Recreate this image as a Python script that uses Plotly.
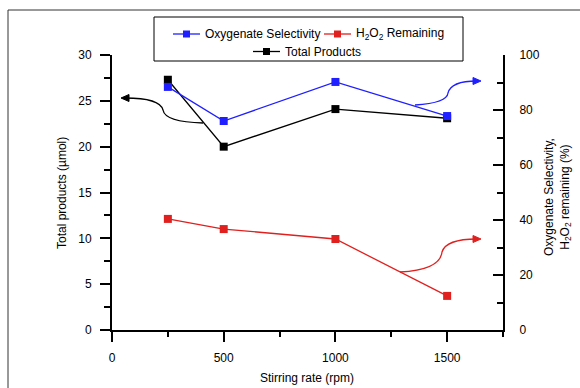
import plotly.graph_objects as go

# ---- data ----
stirring_rate = [250, 500, 1000, 1500]
total_products = [27.3, 20.0, 24.1, 23.1]          # umol (left axis)
oxygenate_selectivity = [88.4, 76.0, 90.2, 77.8]   # % (right axis)
h2o2_remaining = [40.4, 36.7, 33.1, 12.4]          # % (right axis)

x_ticks = [0, 500, 1000, 1500]
left_ticks = [0, 5, 10, 15, 20, 25, 30]
right_ticks = [0, 20, 40, 60, 80, 100]

BLUE = "#1f1fff"
RED = "#e0201e"
BLACK = "#000000"
FONT = "Liberation Sans, Arial, sans-serif"

W, H = 580, 388
L, R, T, B = 112, 503, 55, 330  # plot area in pixels


def px(x):
    return (x - L) / (R - L)


def py(y):
    return (B - y) / (B - T)


fig = go.Figure()
fig.add_trace(go.Scatter(x=stirring_rate, y=oxygenate_selectivity, yaxis="y2",
                         mode="lines+markers", name="Oxygenate Selectivity",
                         line=dict(color=BLUE, width=1.3),
                         marker=dict(symbol="square", size=8, color=BLUE)))
fig.add_trace(go.Scatter(x=stirring_rate, y=h2o2_remaining, yaxis="y2",
                         mode="lines+markers", name="H2O2 Remaining",
                         line=dict(color=RED, width=1.3),
                         marker=dict(symbol="square", size=8, color=RED)))
fig.add_trace(go.Scatter(x=stirring_rate, y=total_products, yaxis="y",
                         mode="lines+markers", name="Total Products",
                         line=dict(color=BLACK, width=1.3),
                         marker=dict(symbol="square", size=8, color=BLACK)))

axis_common = dict(showgrid=False, zeroline=False, showline=True, linecolor="black",
                   linewidth=2, tickwidth=2, tickcolor="black",
                   tickfont=dict(family=FONT, size=12, color="black"))

fig.update_layout(
    width=W, height=H,
    margin=dict(l=L, r=W - R, t=T, b=H - B),
    paper_bgcolor="white", plot_bgcolor="white",
    showlegend=False,
    font=dict(family=FONT, size=12, color="black"),
    xaxis=dict(range=[0, 1750], tickvals=x_ticks, ticks="outside", ticklen=10,
               ticklabelstandoff=6,
               minor=dict(dtick=250, tick0=0, ticklen=5, tickwidth=2, tickcolor="black",
                          ticks="outside"),
               **axis_common),
    yaxis=dict(range=[0, 30], tickvals=left_ticks, ticks="outside", ticklen=10,
               ticklabelstandoff=6,
               minor=dict(dtick=2.5, tick0=0, ticklen=6, tickwidth=2, tickcolor="black",
                          ticks="outside"),
               **axis_common),
    yaxis2=dict(range=[0, 100], tickvals=right_ticks, overlaying="y", side="right",
                ticks="inside", ticklen=10, ticklabelstandoff=12,
                minor=dict(dtick=10, tick0=0, ticklen=6, tickwidth=2, tickcolor="black",
                           ticks="inside"),
                **axis_common),
)

shapes = []
annotations = []

# outer frame (cropped figure border)
shapes.append(dict(type="line", xref="paper", yref="paper", x0=px(8), x1=px(8),
                   y0=py(10), y1=py(H + 5), line=dict(color="#333", width=1)))
shapes.append(dict(type="line", xref="paper", yref="paper", x0=px(8), x1=px(W + 5),
                   y0=py(10), y1=py(10), line=dict(color="#333", width=1)))

# legend box
shapes.append(dict(type="rect", xref="paper", yref="paper", x0=px(154), x1=px(463),
                   y0=py(61), y1=py(17), line=dict(color="black", width=1),
                   fillcolor="white"))


def legend_item(x0, yc, color, text):
    shapes.append(dict(type="line", xref="paper", yref="paper", x0=px(x0), x1=px(x0 + 27),
                       y0=py(yc), y1=py(yc), line=dict(color=color, width=1.3)))
    shapes.append(dict(type="rect", xref="paper", yref="paper", x0=px(x0 + 10), x1=px(x0 + 17),
                       y0=py(yc + 3.5), y1=py(yc - 3.5), line=dict(width=0), fillcolor=color))
    annotations.append(dict(xref="paper", yref="paper", x=px(x0 + 30), y=py(yc),
                            xanchor="left", yanchor="middle", text=text, showarrow=False,
                            font=dict(family=FONT, size=12, color="black")))


legend_item(173, 34, BLUE, "Oxygenate Selectivity")
legend_item(324, 34, RED, "H<sub>2</sub>O<sub>2</sub> Remaining")
legend_item(253, 51.5, BLACK, "Total Products")


def pp(points):
    # build svg path in paper coordinates from pixel points
    s = "M {} {}".format(px(points[0][0]), py(points[0][1]))
    for i in range(1, len(points), 2):
        c, e = points[i], points[i + 1]
        s += " Q {} {} {} {}".format(px(c[0]), py(c[1]), px(e[0]), py(e[1]))
    return s


def curved_arrow(pts, color, head_dir):
    shapes.append(dict(type="path", xref="paper", yref="paper", path=pp(pts),
                       line=dict(color=color, width=1.3)))
    ex, ey = pts[-1]
    tip = ex + head_dir * 4
    base = ex - head_dir * 4
    tri = "M {} {} L {} {} L {} {} Z".format(px(tip), py(ey), px(base), py(ey - 3.5),
                                             px(base), py(ey + 3.5))
    shapes.append(dict(type="path", xref="paper", yref="paper", path=tri,
                       line=dict(color=color, width=1), fillcolor=color))


curved_arrow([(203, 123), (165, 122), (163, 110), (160, 98), (125, 98)], BLACK, -1)
curved_arrow([(415, 105), (447, 103), (448, 93), (451, 81), (477, 81)], BLUE, 1)
curved_arrow([(400, 272), (440, 270), (442, 252), (446, 239), (477, 239)], RED, 1)

# axis titles
annotations.append(dict(xref="paper", yref="paper", x=px(62), y=py(193), text="Total products (µmol)",
                        textangle=-90, showarrow=False, xanchor="center", yanchor="middle",
                        font=dict(family=FONT, size=12, color="black")))
annotations.append(dict(xref="paper", yref="paper", x=px(557), y=py(197),
                        text="Oxygenate Selectivity,<br>H<sub>2</sub>O<sub>2</sub> remaining (%)",
                        textangle=-90, showarrow=False, xanchor="center", yanchor="middle",
                        font=dict(family=FONT, size=12, color="black")))
annotations.append(dict(xref="paper", yref="paper", x=px(307), y=py(378), text="Stirring rate (rpm)",
                        showarrow=False, xanchor="center", yanchor="middle",
                        font=dict(family=FONT, size=12, color="black")))

fig.update_layout(shapes=shapes, annotations=annotations)
fig.write_html("out.html")
